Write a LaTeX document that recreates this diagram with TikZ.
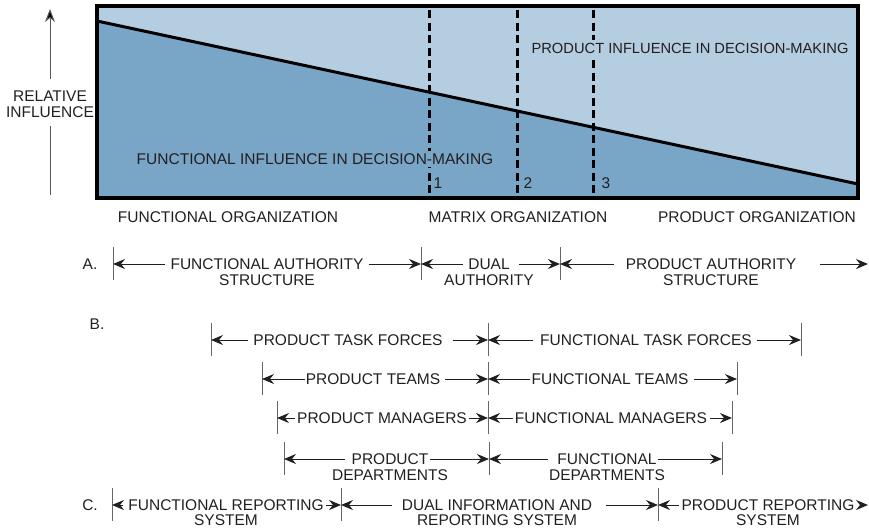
\documentclass[tikz,border=0pt]{standalone}
\usepackage{fontspec}
\setmainfont{Liberation Sans}
\usetikzlibrary{positioning,arrows.meta}
\definecolor{infLight}{HTML}{B4CDE1}
\definecolor{infDark}{HTML}{79A5C7}
\definecolor{inkGray}{HTML}{231F20}

\begin{document}
\begin{tikzpicture}[x=1pt, y=-1pt, >={Stealth[length=12pt,width=10pt,inset=4pt]},
  every node/.style={font=\fontsize{15.5}{16}\selectfont, text=inkGray, inner xsep=1pt, inner ysep=2.5pt},
  span/.style={->, line width=1pt, color=inkGray, shorten <=4pt},
  stopline/.style={line width=1pt, color=black!60},
  divider/.style={line width=3pt, dash pattern=on 8pt off 4.5pt}]
  \useasboundingbox (0,0) rectangle (869,528);

  % influence chart
  \fill[infLight] (97,6) rectangle (858,198);
  \fill[infDark] (97,21) -- (858,184) -- (858,198) -- (97,198) -- cycle;
  \draw[line width=3pt] (97,21) -- (858,184);
  \draw[divider] (429,10) -- (429,198);
  \draw[divider] (517,10) -- (517,198);
  \draw[divider] (593,10) -- (593,198);
  \draw[line width=3.5pt] (97,6) rectangle (858,198);

  \node (m1) at (438,183) {1};
  \node (m2) at (528,183) {2};
  \node (m3) at (606,183) {3};
  \node[fill=infLight, font=\fontsize{14.7}{16}\selectfont] (pinf) at (690,48) {PRODUCT INFLUENCE IN DECISION-MAKING};
  \node[fill=infDark] (finf) at (315,159) {FUNCTIONAL INFLUENCE IN DECISION-MAKING};

  % axis
  \node[align=center, inner ysep=1pt] (ylab) at (50,104) {RELATIVE\\INFLUENCE};
  \coordinate (ytop) at (50,9);
  \coordinate (ybot) at (50,195);
  \draw[-{Stealth[length=13pt,width=10pt,inset=4pt,fill=black]}, line width=1pt, color=black!65, shorten <=10pt] (ylab) -- (ytop);
  \draw[line width=1pt, color=black!65, shorten <=7pt] (ylab) -- (ybot);

  \node (forg) at (228,217) {FUNCTIONAL ORGANIZATION};
  \node (morg) at (518,217) {MATRIX ORGANIZATION};
  \node (porg) at (757,217) {PRODUCT ORGANIZATION};

  % end stops
  \foreach \n/\x/\y in {a1/113/264, a2/421/264, a3/560/264,
      b1/211/340, b2/488/340, b3/801/340,
      c1/262/379, c2/488/379, c3/737/379,
      d1/277/418, d2/488/418, d3/732/418,
      e1/284/459, e2/489/459, e3/722/459,
      f1/112/505, f2/341/505, f3/658/505} {
    \coordinate (\n) at (\x,\y);
    \draw[stopline] (\x,\y-17) -- (\x,\y+16);
  }
  \coordinate (a4) at (868,264);
  \coordinate (f4) at (868,505);

  % A
  \node (rowA) at (90,264) {A.};
  \node (fa) at (267,264) {FUNCTIONAL AUTHORITY};
  \node[below=0pt of fa] (fa2) {STRUCTURE};
  \node (du) at (489,264) {DUAL};
  \node[below=0pt of du] (du2) {AUTHORITY};
  \node (pa) at (711,264) {PRODUCT AUTHORITY};
  \node[below=0pt of pa] (pa2) {STRUCTURE};

  \draw[span] (fa) -- (a1);
  \draw[span] (fa) -- (a2);
  \draw[span] (du) -- (a2);
  \draw[span, shorten <=8pt] (du) -- (a3);
  \draw[span, shorten <=11pt] (pa) -- (a3);
  \draw[span, shorten <=23pt] (pa) -- (a4);

  % B
  \node (rowB) at (97,324) {B.};
  \node (ptf) at (348,340) {PRODUCT TASK FORCES};
  \node (ftf) at (646,340) {FUNCTIONAL TASK FORCES};
  \node (pt) at (373,379) {PRODUCT TEAMS};
  \node (ft) at (610,379) {FUNCTIONAL TEAMS};
  \node (pm) at (382,418) {PRODUCT MANAGERS};
  \node (fm) at (611,418) {FUNCTIONAL MANAGERS};
  \node (pd) at (390,459) {PRODUCT};
  \node[below=0pt of pd] (pd2) {DEPARTMENTS};
  \node (fd) at (607,459) {FUNCTIONAL};
  \node[below=0pt of fd] (fd2) {DEPARTMENTS};

  \draw[span] (ptf) -- (b1);
  \draw[span, shorten <=9pt] (ptf) -- (b2);
  \draw[span, shorten <=6pt] (ftf) -- (b2);
  \draw[span] (ftf) -- (b3);
  \draw[span, shorten <=0pt] (pt) -- (c1);
  \draw[span] (pt) -- (c2);
  \draw[span, shorten <=0pt] (ft) -- (c2);
  \draw[span] (ft) -- (c3);
  \draw[span, shorten <=1pt] (pm) -- (d1);
  \draw[span, shorten <=1pt] (pm) -- (d2);
  \draw[span, shorten <=1pt] (fm) -- (d2);
  \draw[span, shorten <=2pt] (fm) -- (d3);
  \draw[span, shorten <=5pt] (pd) -- (e1);
  \draw[span, shorten <=0pt] (pd) -- (e2);
  \draw[span, shorten <=8pt] (fd) -- (e2);
  \draw[span, shorten <=0pt] (fd) -- (e3);

  % C
  \node (rowC) at (90,505) {C.};
  \node (fr) at (226,505) {FUNCTIONAL REPORTING};
  \node[below=-1pt of fr] (fr2) {SYSTEM};
  \node (dr) at (497,505) {DUAL INFORMATION AND};
  \node[below=-1pt of dr] (dr2) {REPORTING SYSTEM};
  \node (pr) at (768,505) {PRODUCT REPORTING};
  \node[below=-1pt of pr] (pr2) {SYSTEM};

  \draw[span] (fr) -- (f1);
  \draw[span, shorten <=1pt] (fr) -- (f2);
  \draw[span, shorten <=9pt] (dr) -- (f2);
  \draw[span, shorten <=13pt] (dr) -- (f3);
  \draw[span, shorten <=1pt] (pr) -- (f3);
  \draw[span] (pr) -- (f4);
\end{tikzpicture}
\end{document}
